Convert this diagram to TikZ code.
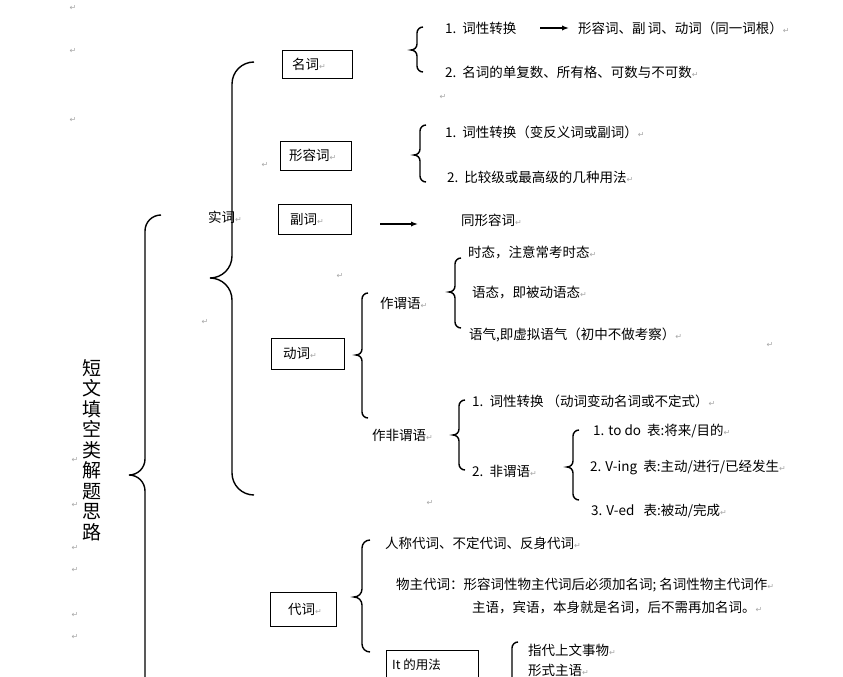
\documentclass[tikz,border=0pt]{standalone}
\usepackage{fontspec}
\setmainfont{Noto Sans CJK SC}
\newfontfamily\markfont{DejaVu Sans}
\usetikzlibrary{arrows.meta}
\newcommand{\rt}{{\markfont\color{gray!70}\fontsize{8}{8}\selectfont ↵}}
% brace opening to the right: x, top, tip y, bottom, width
\newcommand{\wordbrace}[5]{%
  \draw[line width=1.4pt] (#1+#5,#2) to[out=180,in=90] (#1,#2+#5) -- (#1,#3-#5)
    to[out=-90,in=0] (#1-#5,#3) to[out=0,in=90] (#1,#3+#5) -- (#1,#4-#5)
    to[out=-90,in=180] (#1+#5,#4);}
\begin{document}
\begin{tikzpicture}[x=1pt,y=-1pt,font=\fontsize{13.5}{15}\selectfont,
  wordbox/.style={draw,thin,anchor=north west,inner sep=0pt},
  item/.style={anchor=west,inner sep=0pt},
  goesto/.style={-{Latex[length=7pt]},line width=1.4pt}]
\useasboundingbox (0,0) rectangle (843,677);
%%% braces
\wordbrace{145}{215}{475}{720}{16}
\wordbrace{232}{62}{278}{495}{22}
\wordbrace{417}{27}{50}{72}{6}
\wordbrace{420}{125}{155}{182}{6}
\wordbrace{362}{293}{355}{418}{6}
\wordbrace{455}{258}{292}{328}{6}
\wordbrace{459}{400}{435}{470}{6}
\wordbrace{573}{430}{467}{500}{6}
\wordbrace{362}{540}{597}{652}{8}
\wordbrace{512}{642}{690}{730}{6}
%%% title
\node[inner sep=0pt,align=center,font=\fontsize{19}{20.5}\selectfont] (title) at (92,450)
  {短\\文\\填\\空\\类\\解\\题\\思\\路};
\node[item] (shici) at (208,217) {实词\rt};
%%% word boxes
\node[wordbox,minimum width=70pt,minimum height=28pt] (mingci) at (282,50) {};
\node[item] at ([xshift=10pt]mingci.west) {名词\rt};
\node[wordbox,minimum width=71pt,minimum height=29pt] (xingrongci) at (280,141) {};
\node[item] at ([xshift=9pt]xingrongci.west) {形容词\rt};
\node[wordbox,minimum width=73pt,minimum height=30pt] (fuci) at (278,204) {};
\node[item] at ([xshift=12pt]fuci.west) {副词\rt};
\node[wordbox,minimum width=73pt,minimum height=31pt] (dongci) at (271,338) {};
\node[item] at ([xshift=12pt]dongci.west) {动词\rt};
\node[wordbox,minimum width=66pt,minimum height=34pt] (daici) at (270,592) {};
\node[item] at ([xshift=18pt]daici.west) {代词\rt};
\node[wordbox,minimum width=92pt,minimum height=40pt] (ituse) at (386,650) {};
\node[item,font=\fontsize{12.5}{13}\selectfont] at ([xshift=6pt,yshift=5pt]ituse.west) {It 的用法};
%%% nouns
\node[item] (mc1) at (445,28) {1.\ \ 词性转换};
\coordinate (mcfrom) at (540,28);
\coordinate (mcto) at (569,28);
\node[item] (mc1b) at (578,28) {形容词、副\,词、动词（同一词根）\rt};
\draw[goesto] (mcfrom) -- (mcto);
\node[item] (mc2) at (445,72) {2.\ \ 名词的单复数、所有格、可数与不可数\rt};
%%% adjectives
\node[item] (xr1) at (445,132) {1.\ \ 词性转换（变反义词或副词）\rt};
\node[item] (xr2) at (447,177) {2.\ \ 比较级或最高级的几种用法\rt};
%%% adverbs
\node[item] (fc1) at (461,220) {同形容词\rt};
\coordinate (fcfrom) at (380,224);
\coordinate (fcto) at (418,224);
\draw[goesto] (fcfrom) -- (fcto);
%%% verbs
\node[item] (wei) at (380,303) {作谓语\rt};
\node[item] (wei1) at (468,252) {时态，注意常考时态\rt};
\node[item] (wei2) at (472,293) {语态，即被动语态\rt};
\node[item] (wei3) at (469,335) {语气,即虚拟语气（初中不做考察）\rt};
\node[item] (fei) at (372,435) {作非谓语\rt};
\node[item] (fei1) at (472,401) {1.\ \ 词性转换 （动词变动名词或不定式）\rt};
\node[item] (fei2) at (472,471) {2.\ \ 非谓语\rt};
\node[item] (fw1) at (593,431) {1. to do\ \ 表:将来/目的\rt};
\node[item] (fw2) at (590,467) {2. V-ing\ \ 表:主动/进行/已经发生\rt};
\node[item] (fw3) at (591,511) {3. V-ed\ \ \ 表:被动/完成\rt};
%%% pronouns
\node[item] (dc1) at (385,543) {人称代词、不定代词、反身代词\rt};
\node[item] (dc2) at (396,585) {物主代词：形容词性物主代词后必须加名词; 名词性物主代词作\rt};
\node[item] (dc3) at (472,608) {主语，宾语，本身就是名词，后不需再加名词。\rt};
\node[item] (it1) at (528,650) {指代上文事物\rt};
\node[item] (it2) at (528,670) {形式主语\rt};
%%% stray marks
\foreach \px/\py in {73/8,73/51,73/120,75/548,75/570,75/615,75/637,205/322,265/165,
  340/276,443/97,770/345,430/503,75/460,75/505}
  \node[inner sep=0pt] at (\px,\py) {\rt};
\end{tikzpicture}
\end{document}
